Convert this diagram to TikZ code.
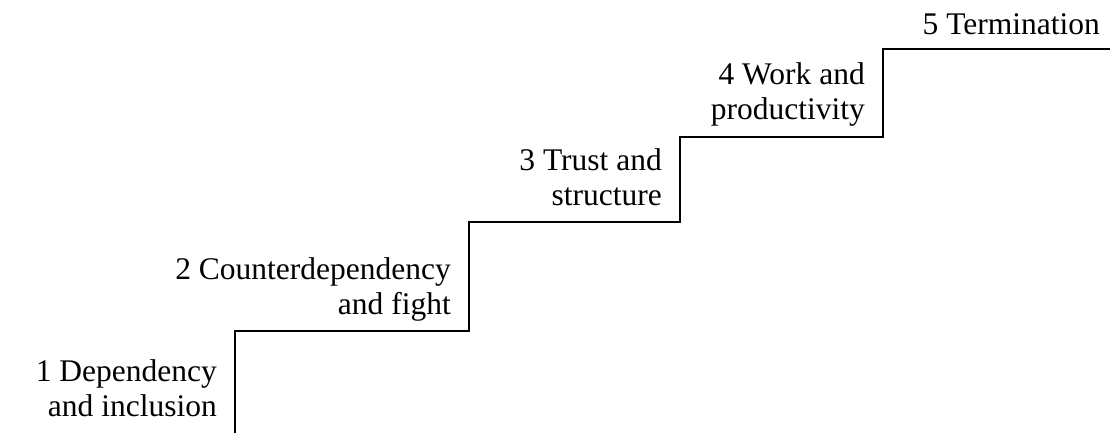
\documentclass[tikz,border=0pt]{standalone}
\usepackage{fontspec}
\setmainfont{Liberation Serif}

\begin{document}
\begin{tikzpicture}[x=1pt,y=-1pt,
	stair/.style={line width=1.6pt},
	steplabel/.style={align=right,inner sep=0pt,anchor=base east,xshift=-18pt,yshift=17pt,
		font=\fontsize{31.5}{35}\selectfont}]
	\useasboundingbox (0,0) rectangle (1110,433);
	% corners of the stairs
	\coordinate (s0) at (235,433);
	\coordinate (s1) at (235,331);
	\coordinate (s2) at (469,331);
	\coordinate (s3) at (469,222);
	\coordinate (s4) at (680,222);
	\coordinate (s5) at (680,137);
	\coordinate (s6) at (883,137);
	\coordinate (s7) at (883,49);
	\coordinate (s8) at (1110,49);
	\draw[stair] (s0) -- (s1) -- (s2) -- (s3) -- (s4) -- (s5) -- (s6) -- (s7) -- (s8);
	% labels
	\node[steplabel] (dependency) at (s0) {1 Dependency\\and inclusion};
	\node[steplabel] (fight) at (s2) {2 Counterdependency\\and fight};
	\node[steplabel] (trust) at (s4) {3 Trust and\\structure};
	\node[steplabel] (work) at (s6) {4 Work and\\productivity};
	\node[steplabel,xshift=8pt,yshift=-3pt] (termination) at (s8) {5 Termination};
\end{tikzpicture}
\end{document}
